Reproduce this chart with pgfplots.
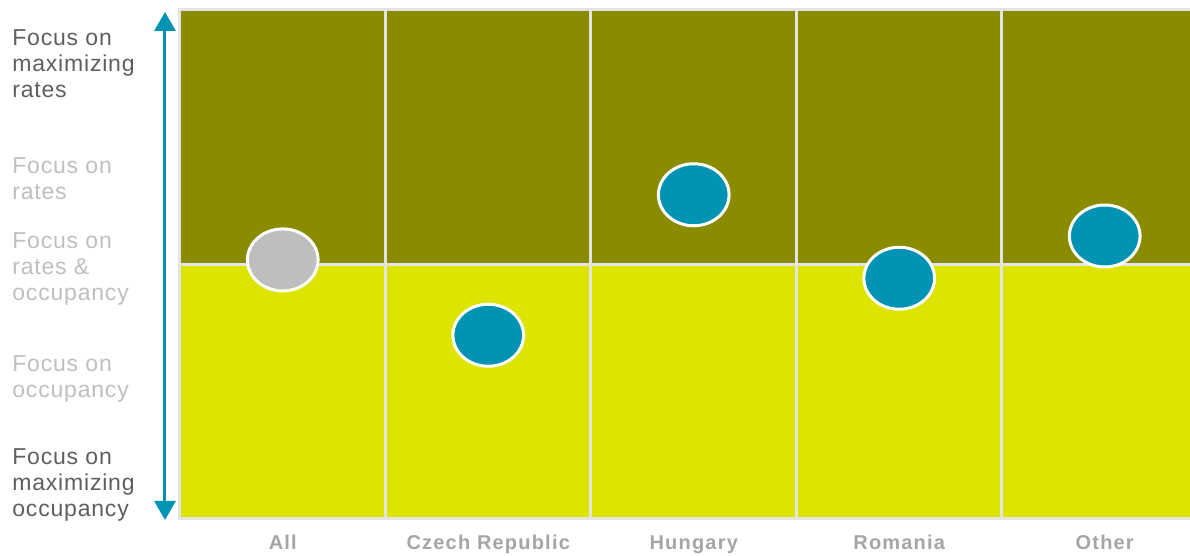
\documentclass[border=0pt]{standalone}
\usepackage{pgfplots}
\pgfplotsset{compat=1.18}
\usepackage{fontspec}
\setmainfont{Liberation Sans}
\newfontfamily\labfont[LetterSpace=3.5]{Liberation Sans}
\newfontfamily\tickfont[LetterSpace=6]{Liberation Sans}
\usetikzlibrary{arrows.meta}

\definecolor{darkolive}{HTML}{8A8C00}
\definecolor{limefill}{HTML}{DCE400}
\definecolor{markblue}{HTML}{0093B3}
\definecolor{markgray}{HTML}{BEBEBE}
\definecolor{gridgray}{HTML}{E4E4E4}
\definecolor{darktext}{HTML}{5F5F5F}
\definecolor{lighttext}{HTML}{BFBFBF}
\definecolor{ticktext}{HTML}{A5A5A5}

\begin{document}
\begin{tikzpicture}
\path[use as bounding box] (-90pt,-18.5pt) rectangle (505pt,259.5pt);
\begin{axis}[
  at={(0,0)}, anchor=south west,
  scale only axis, width=505pt, height=254.5pt,
  xmin=0, xmax=4.915, ymin=0, ymax=10,
  axis line style={draw=none},
  xtick={0.5,1.5,2.5,3.5,4.5},
  xticklabels={All, Czech Republic, Hungary, Romania, Other},
  ytick=\empty,
  major tick length=0pt,
  xticklabel style={font=\tickfont\bfseries\fontsize{10}{12}\selectfont, text=ticktext, anchor=base, yshift=-15.5pt},
  clip=false,
]
% bands
\addplot[draw=none, fill=limefill] coordinates {(0,0) (4.915,0) (4.915,5) (0,5)};
\addplot[draw=none, fill=darkolive] coordinates {(0,5) (4.915,5) (4.915,10) (0,10)};
% separators and border
\addplot[gridgray, line width=1.5pt] coordinates {(1,0) (1,10)};
\addplot[gridgray, line width=1.5pt] coordinates {(2,0) (2,10)};
\addplot[gridgray, line width=1.5pt] coordinates {(3,0) (3,10)};
\addplot[gridgray, line width=1.5pt] coordinates {(4,0) (4,10)};
\addplot[gridgray, line width=1.5pt] coordinates {(0,5) (4.915,5)};
\addplot[gridgray, line width=1.5pt] coordinates {(4.915,0) (0,0) (0,10) (4.915,10)};
% positions
\addplot[only marks, mark=*, mark size=15.5pt,
  mark options={fill=markgray, draw=white, line width=1.5pt, xscale=1.14}]
  coordinates {(0.5,5.09)};
\addplot[only marks, mark=*, mark size=15.5pt,
  mark options={fill=markblue, draw=white, line width=1.5pt, xscale=1.14}]
  coordinates {(1.5,3.61) (2.5,6.37) (3.5,4.73) (4.5,5.56)};
\end{axis}
\draw[markblue, line width=1.5pt,
  {Triangle[width=10.5pt,length=9.5pt]}-{Triangle[width=10.5pt,length=9.5pt]}]
  (-7.5pt,-0.5pt) -- (-7.5pt,253.5pt);
\tikzset{lab/.style={anchor=west, align=left, inner sep=0pt, font=\labfont\fontsize{11.5}{13}\selectfont}}
\node[lab, text=darktext] at (-84pt,227.5pt) {Focus on\\maximizing\\rates};
\node[lab, text=lighttext] at (-84pt,170pt) {Focus on\\rates};
\node[lab, text=lighttext] at (-84pt,125pt) {Focus on\\rates \&\\occupancy};
\node[lab, text=lighttext] at (-84pt,70pt) {Focus on\\occupancy};
\node[lab, text=darktext] at (-84pt,17pt) {Focus on\\maximizing\\occupancy};
\end{tikzpicture}
\end{document}
